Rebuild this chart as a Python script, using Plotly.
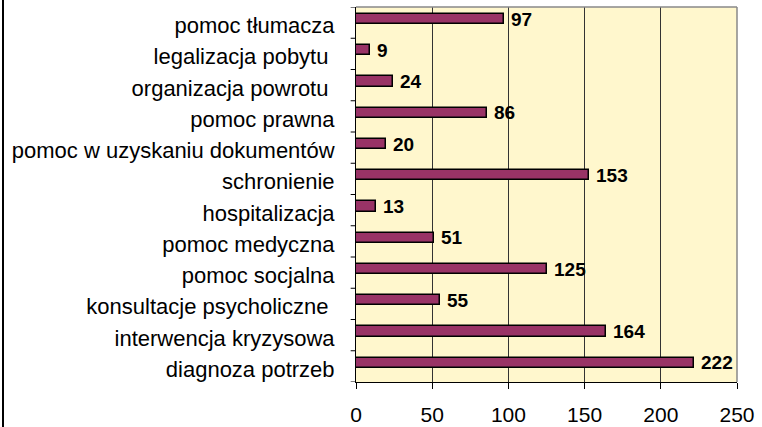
import plotly.graph_objects as go

categories = ["diagnoza potrzeb", "interwencja kryzysowa", "konsultacje psycholiczne\u00a0",
              "pomoc socjalna", "pomoc medyczna", "hospitalizacja", "schronienie",
              "pomoc w uzyskaniu dokumentów", "pomoc prawna", "organizacja powrotu\u00a0",
              "legalizacja pobytu\u00a0", "pomoc tłumacza"]
values = [222, 164, 55, 125, 51, 13, 153, 20, 86, 24, 9, 97]
x_ticks = [0, 50, 100, 150, 200, 250]

font = "Liberation Sans, Arial, sans-serif"
BAR_W, BAR_OFF = 0.33, -0.05
LABEL_SHIFT = -0.09

fig = go.Figure(go.Bar(
    y=list(range(len(categories))), x=values, orientation="h",
    width=BAR_W, offset=BAR_OFF,
    marker=dict(color="#993366", line=dict(color="black", width=1.5)),
    hoverinfo="x+y",
))

annotations = [
    dict(x=v, y=i + BAR_OFF + BAR_W / 2, xref="x", yref="y", text=str(v),
         showarrow=False, xanchor="left", yanchor="middle", xshift=5,
         font=dict(family=font, size=19, color="black", weight="bold"))
    for i, v in enumerate(values)
]

fig.update_layout(
    width=762, height=427,
    margin=dict(l=356, r=25, t=7, b=45),
    paper_bgcolor="white", plot_bgcolor="#FFF7CD",
    showlegend=False,
    font=dict(family=font, color="black"),
    bargap=0,
    annotations=annotations,
)
fig.update_xaxes(
    range=[0, 250], tickvals=x_ticks, ticktext=[str(t) for t in x_ticks],
    showgrid=True, gridcolor="#333333", gridwidth=1,
    showline=True, linecolor="black", linewidth=1,
    ticks="outside", ticklen=6, tickcolor="black",
    tickfont=dict(size=21, family=font), ticklabelstandoff=8,
    zeroline=False, automargin=False,
)
fig.update_yaxes(
    range=[-0.5, len(categories) - 0.5],
    tickvals=[i + LABEL_SHIFT for i in range(len(categories))], ticktext=categories,
    showgrid=False, showline=True, linecolor="black", linewidth=1,
    ticks="", tickfont=dict(size=22, family=font), ticklabelstandoff=16,
    zeroline=False, automargin=False,
)
shapes = []
for i in range(len(categories) + 1):
    yb = i - 0.5
    shapes.append(dict(type="line", xref="paper", yref="y", x0=-0.014, x1=0, y0=yb, y1=yb,
                       line=dict(color="black", width=1)))
shapes.append(dict(type="line", xref="paper", yref="paper", x0=0, x1=1, y0=1, y1=1,
                   line=dict(color="#888888", width=1.5)))
shapes.append(dict(type="line", xref="paper", yref="paper", x0=1, x1=1, y0=0, y1=1,
                   line=dict(color="#888888", width=1.5)))
shapes.append(dict(type="line", xref="paper", yref="paper", x0=-0.9265, x1=-0.9265, y0=-0.2, y1=1.05,
                   line=dict(color="black", width=2)))
fig.update_layout(shapes=shapes)

fig.write_html("out.html", config={"displayModeBar": False},
               post_script="document.body.style.margin='0';")
